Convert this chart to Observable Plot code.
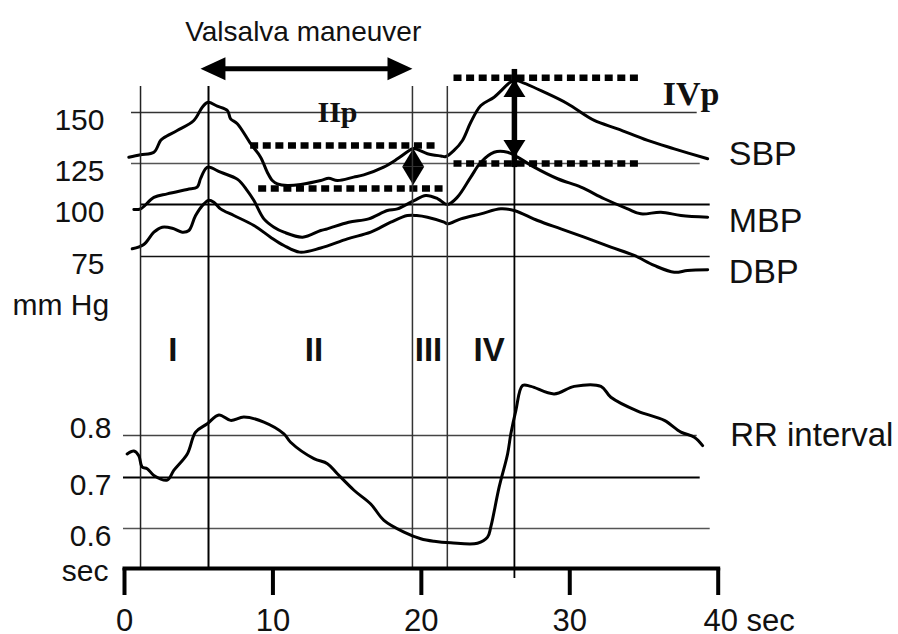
<!DOCTYPE html>
<html>
<head>
<meta charset="utf-8">
<script src="https://cdn.jsdelivr.net/npm/d3@7"></script>
<script src="https://cdn.jsdelivr.net/npm/@observablehq/plot@0.6"></script>
<style>
  body { margin: 0; background: #fff; }
  #chart { position: relative; width: 898px; height: 634px; overflow: hidden; background: #fff; }
  #chart svg { position: absolute; left: 0; top: 0; }
</style>
</head>
<body>
<div id="chart"></div>
<script>
// ---------- data (time in sec, pressure in mmHg, RR in sec) ----------
const sbpPoints = [
  [0.29,128.1],[1.08,129.3],[1.98,130.5],[2.43,136.3],[2.65,137.6],[3.55,141.2],[4.67,146.1],
  [5.24,152.6],[5.62,155.0],[6.25,153.1],[6.93,151.0],[7.15,146.9],[7.60,144.5],[8.50,134.7],
  [9.17,128.1],[9.62,119.7],[9.96,114.6],[10.30,112.6],[10.97,111.6],[11.87,112.2],[13.22,114.6],
  [13.76,116.0],[14.34,114.6],[15.44,116.7],[16.12,118.1],[17.46,122.8],[18.39,127.3],[19.28,131.8],
  [19.49,132.4],[20.41,129.8],[21.31,128.7],[21.65,128.4],[22.20,131.4],[22.77,136.3],[23.33,145.2],
  [24.01,153.4],[24.90,157.5],[26.14,165.5],[26.48,165.5],[28.50,159.2],[29.85,154.3],[31.65,146.1],
  [33.22,142.0],[35.25,136.3],[37.04,132.2],[39.29,127.3]
];
const mbpPoints = [
  [0.63,97.6],[1.08,97.9],[1.98,104.3],[2.88,106.5],[4.23,109.2],[4.90,110.6],[5.12,115.7],
  [5.46,121.8],[5.66,122.8],[6.47,119.7],[7.62,115.3],[8.27,108.5],[8.72,102.4],[9.39,93.1],
  [10.07,89.1],[10.74,86.7],[12.00,84.3],[13.22,87.5],[13.67,88.3],[15.10,91.5],[16.45,93.1],
  [17.71,97.1],[18.39,97.9],[19.51,102.4],[20.30,105.5],[21.11,103.5],[21.76,100.0],[22.43,104.5],
  [23.33,116.7],[24.01,125.6],[24.90,130.5],[25.81,130.5],[26.48,128.1],[27.60,122.8],[29.18,115.7],
  [30.75,110.6],[32.32,103.5],[33.90,97.9],[34.79,95.5],[36.14,96.3],[37.49,94.7],[39.29,93.9]
];
const dbpPoints = [
  [0.52,78.7],[1.30,80.8],[1.98,86.7],[2.54,89.1],[3.22,88.6],[3.89,86.7],[4.34,87.5],[4.79,94.7],
  [5.35,100.4],[5.68,102.6],[6.02,101.4],[6.47,97.9],[7.37,94.7],[8.72,89.9],[9.84,84.3],
  [10.74,80.3],[11.80,77.1],[13.22,79.1],[15.02,83.5],[16.59,86.7],[17.94,91.5],[19.06,94.7],
  [19.69,94.7],[20.41,93.9],[21.53,91.5],[21.76,90.7],[22.66,93.1],[24.01,95.5],[25.35,97.9],
  [26.25,97.1],[27.83,92.3],[29.40,88.3],[30.97,84.3],[32.77,79.5],[34.34,75.5],[35.69,70.7],
  [37.04,67.4],[37.94,68.3],[39.29,68.6]
];
const rrPoints = [
  [0.18,0.756],[0.63,0.763],[0.96,0.752],[1.19,0.725],[1.53,0.721],[1.98,0.705],[2.88,0.695],
  [3.32,0.717],[4.23,0.756],[4.79,0.808],[5.58,0.828],[6.36,0.849],[7.15,0.836],[8.04,0.844],
  [9.39,0.832],[10.74,0.804],[11.19,0.784],[12.76,0.745],[13.67,0.733],[14.34,0.709],[15.46,0.675],
  [16.59,0.648],[17.48,0.616],[18.83,0.593],[19.96,0.580],[20.86,0.575],[21.98,0.572],[23.78,0.571],
  [24.46,0.583],[24.68,0.603],[25.24,0.681],[25.81,0.756],[26.03,0.804],[26.37,0.860],[26.82,0.919],
  [27.38,0.917],[28.95,0.899],[30.30,0.917],[32.10,0.917],[32.77,0.891],[34.57,0.858],[36.37,0.836],
  [37.49,0.808],[38.39,0.796],[38.95,0.776]
];

const bpTicks = [150, 125, 100, 75];
const rrTicks = [0.8, 0.7, 0.6];
const timeTicks = [0, 10, 20, 30, 40];
const timeTickLabels = ["0", "10", "20", "30", "40 sec"];

const phaseBoundaries = [1.08, 5.66, 19.4, 21.75, 26.27];
const phaseLabels = ["I", "II", "III", "IV"];
const phaseLabelTimes = [3.26, 12.77, 20.48, 24.57];

const seriesLabels = ["SBP", "MBP", "DBP"];
const seriesLabelLevels = [129.4, 91.8, 67.3];

const valsalvaSpan = [5.12, 19.4];      // sec
const valsalvaLevel = 171.4;             // mmHg (drawing level)
const valsalvaLabelPos = [12.04, 189.3];

const iipLevels = [133.8, 109.8];        // mmHg
const iipSpans = [[8.5, 21.1], [9.04, 21.7]];
const iipArrowTime = 19.45;
const iipArrowRange = [111.9, 132.4];
const iipLabelPos = [13.0, 150];

const ivpLevels = [167.0, 125.0];
const ivpSpan = [22.2, 34.7];
const ivpArrowTime = 26.27;
const ivpArrowRange = [127.9, 166.2];
const ivpLabelPos = [36.26, 158.8];

// ---------- helpers ----------
const W = 898, H = 634;
const margins = {marginLeft: 124, marginRight: 180.3, marginTop: 86, marginBottom: 66};
const sans = "'Liberation Sans', Arial, Helvetica, sans-serif";
const serif = "'Liberation Serif', 'Times New Roman', serif";

// the hand-drawn gridlines are unevenly spaced: warp values piecewise before the linear scale
const bpWarp = d3.scaleLinear().domain([75, 100, 125, 150]).range([0, 52, 93, 144]);
const rrWarp = d3.scaleLinear().domain([0.6, 0.7, 0.8]).range([0, 51, 93]);

// filled arrow head, tip at the origin, pointing up
function headSymbol(ratio) {
  return {
    draw(ctx, size) {
      const r = Math.sqrt(size / Math.PI);
      ctx.moveTo(0, 0);
      ctx.lineTo(r, r * ratio);
      ctx.lineTo(-r, r * ratio);
      ctx.closePath();
    }
  };
}
const longHead = headSymbol(2.17);
const shortHead = headSymbol(1.6);

const dotted = {stroke: "black", strokeWidth: 6.5, strokeDasharray: "8,4.6"};
const curve = {stroke: "black", strokeWidth: 3, curve: "catmull-rom", strokeLinejoin: "round"};

// ---------- blood pressure panel ----------
const bp = Plot.plot({
  width: W, height: H, ...margins,
  style: {background: "transparent", overflow: "visible", fontFamily: sans, color: "black"},
  x: {domain: [0, 40], axis: null},
  y: {transform: bpWarp, domain: [0, 144], range: [256, 112], axis: null},
  marks: [
    Plot.ruleY(bpTicks.slice(0, 1), {y: d => d, stroke: "#333", strokeWidth: 1.3, insetLeft: 7, insetRight: 21}),
    Plot.ruleY(bpTicks.slice(1, 2), {y: d => d, stroke: "#555", strokeWidth: 1.3, insetLeft: 7, insetRight: 18}),
    Plot.ruleY(bpTicks.slice(2, 3), {y: d => d, stroke: "#000", strokeWidth: 2, insetLeft: 16, insetRight: 8}),
    Plot.ruleY(bpTicks.slice(3, 4), {y: d => d, stroke: "#111", strokeWidth: 1.6, insetLeft: 16, insetRight: 8}),
    Plot.text(bpTicks, {y: d => d, text: d => String(d), frameAnchor: "left", textAnchor: "end", dx: -20, dy: 8, fontSize: 30, fill: "#111"}),
    Plot.text(["mm Hg"], {text: d => d, y: bpTicks[3], frameAnchor: "left", textAnchor: "start", dx: -112, dy: 49, fontSize: 30, fill: "#111"}),

    // dotted reference levels
    Plot.ruleY(iipLevels, {y: d => d, x1: (d, i) => iipSpans[i][0], x2: (d, i) => iipSpans[i][1], ...dotted}),
    Plot.ruleY(ivpLevels, {y: d => d, x1: ivpSpan[0], x2: ivpSpan[1], ...dotted}),

    // curves
    Plot.line(sbpPoints, {x: d => d[0], y: d => d[1], ...curve}),
    Plot.line(mbpPoints, {x: d => d[0], y: d => d[1], ...curve}),
    Plot.line(dbpPoints, {x: d => d[0], y: d => d[1], ...curve}),

    // Valsalva arrow
    Plot.ruleY([valsalvaLevel], {y: d => d, x1: valsalvaSpan[0], x2: valsalvaSpan[1], stroke: "black", strokeWidth: 5, insetLeft: 14, insetRight: 14}),
    Plot.dot(valsalvaSpan, {x: d => d, y: valsalvaLevel, rotate: (d, i) => i === 0 ? -90 : 90, symbol: longHead, r: 11.5, fill: "black", stroke: "none"}),
    Plot.text(["Valsalva maneuver"], {text: d => d, x: valsalvaLabelPos[0], y: valsalvaLabelPos[1], fontSize: 28, fill: "#111"}),

    // IVp arrow
    Plot.ruleX([ivpArrowTime], {x: d => d, y1: ivpArrowRange[0], y2: ivpArrowRange[1], stroke: "black", strokeWidth: 5.5, insetTop: 10, insetBottom: 10}),
    Plot.dot(ivpArrowRange, {x: ivpArrowTime, y: d => d, rotate: (d, i) => i === 0 ? 180 : 0, symbol: shortHead, r: 11, fill: "black", stroke: "none"}),

    // IIp arrow (two heads meeting)
    Plot.dot(iipArrowRange, {x: iipArrowTime, y: d => d, rotate: (d, i) => i === 0 ? 180 : 0, symbol: headSymbol(1.66), r: 11, fill: "black", stroke: "none"}),

    Plot.text(["IIp"], {text: d => d, x: iipLabelPos[0], y: iipLabelPos[1], textAnchor: "start", fontFamily: serif, fontWeight: "bold", fontSize: 30, fill: "#111"}),
    Plot.text(["IVp"], {text: d => d, x: ivpLabelPos[0], y: ivpLabelPos[1], textAnchor: "start", fontFamily: serif, fontWeight: "bold", fontSize: 34, fill: "#111"}),

    Plot.text(seriesLabels, {text: d => d, y: (d, i) => seriesLabelLevels[i], frameAnchor: "right", textAnchor: "start", dx: 10.5, fontSize: 34, fill: "#111"})
  ]
});

// ---------- RR interval panel + time axis ----------
const rr = Plot.plot({
  width: W, height: H, ...margins,
  style: {background: "transparent", overflow: "visible", fontFamily: sans, color: "black"},
  x: {domain: [0, 40], label: null},
  y: {transform: rrWarp, domain: [0, 93], range: [528, 435], axis: null},
  marks: [
    Plot.ruleY(rrTicks.slice(0, 1), {y: d => d, stroke: "#444", strokeWidth: 1.3, insetLeft: -1, insetRight: 21}),
    Plot.ruleY(rrTicks.slice(1, 2), {y: d => d, stroke: "#000", strokeWidth: 2, insetLeft: -1, insetRight: 18}),
    Plot.ruleY(rrTicks.slice(2, 3), {y: d => d, stroke: "#555", strokeWidth: 1.3, insetLeft: -1, insetRight: 8}),
    Plot.text(rrTicks.slice(0, 1), {y: d => d, text: d => d.toFixed(1), frameAnchor: "left", textAnchor: "end", dx: -13, dy: -7.5, fontSize: 30, fill: "#111"}),
    Plot.text(rrTicks.slice(1), {y: d => d, text: d => d.toFixed(1), frameAnchor: "left", textAnchor: "end", dx: -13, dy: 8, fontSize: 30, fill: "#111"}),
    Plot.text(["sec"], {text: d => d, y: rrTicks[2], frameAnchor: "left", textAnchor: "end", dx: -16, dy: 43, fontSize: 30, fill: "#111"}),

    // phase boundaries
    Plot.ruleX(phaseBoundaries.slice(0, 1), {x: d => d, stroke: "#222", strokeWidth: 1.5}),
    Plot.ruleX(phaseBoundaries.slice(1, 2), {x: d => d, stroke: "#000", strokeWidth: 2}),
    Plot.ruleX(phaseBoundaries.slice(2, 4), {x: d => d, stroke: "#333", strokeWidth: 1.5}),
    Plot.ruleX(phaseBoundaries.slice(4), {x: d => d, stroke: "#000", strokeWidth: 1.8, insetTop: -6, insetBottom: -10}),
    Plot.text(phaseLabels, {text: d => d, x: (d, i) => phaseLabelTimes[i], frameAnchor: "top", lineAnchor: "middle", dy: 264, fontWeight: "bold", fontSize: 33, fill: "#111"}),

    Plot.line(rrPoints, {x: d => d[0], y: d => d[1], ...curve}),
    Plot.text(["RR interval"], {text: d => d, y: rrTicks[0], frameAnchor: "right", textAnchor: "start", dx: 12, fontSize: 33, fill: "#111"}),

    // time axis
    Plot.frame({anchor: "bottom", stroke: "black", strokeWidth: 4, strokeLinecap: "square"}),
    Plot.axisX(timeTicks, {tickSize: 27, stroke: "black", strokeWidth: 4, fill: "none", label: null}),
    Plot.text(timeTicks.slice(0, 4), {x: d => d, text: (d, i) => timeTickLabels[i], frameAnchor: "bottom", lineAnchor: "middle", dy: 53, fontSize: 31, fill: "#111"}),
    Plot.text(timeTicks.slice(4), {x: d => d, text: () => timeTickLabels[4], frameAnchor: "bottom", lineAnchor: "middle", textAnchor: "start", dx: -14.7, dy: 53, fontSize: 31, fill: "#111"})
  ]
});

const chart = document.getElementById("chart");
chart.appendChild(bp);
chart.appendChild(rr);
</script>
</body>
</html>
